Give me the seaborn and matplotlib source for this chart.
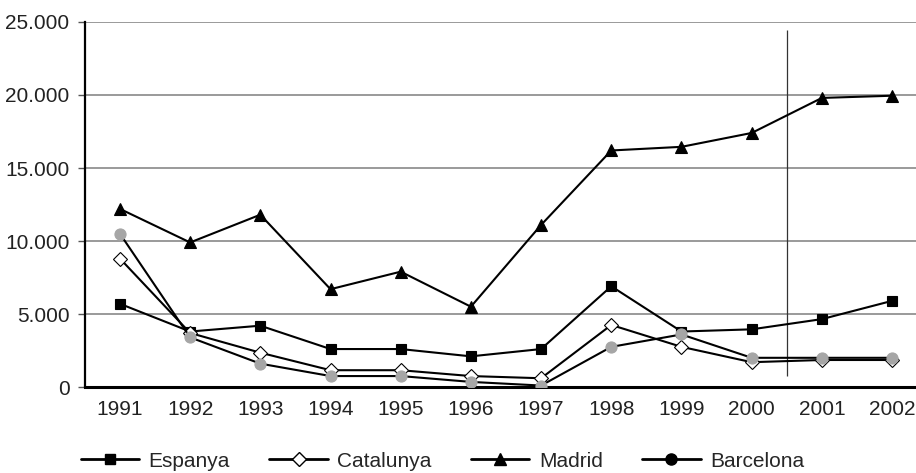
import numpy as np
import pandas as pd
import matplotlib
matplotlib.use("Agg")
import matplotlib.pyplot as plt
from matplotlib.lines import Line2D
from matplotlib.ticker import FuncFormatter
import seaborn as sns

# data
years = [1991, 1992, 1993, 1994, 1995, 1996, 1997, 1998, 1999, 2000, 2001, 2002]
espanya = [5700, 3800, 4200, 2600, 2600, 2100, 2600, 6900, 3800, 3950, 4650, 5900]
catalunya = [8800, 3700, 2350, 1150, 1150, 750, 600, 4250, 2750, 1700, 1850, 1850]
madrid = [12200, 9900, 11800, 6700, 7900, 5500, 11100, 16200, 16450, 17400, 19800, 19950]
barcelona = [10500, 3400, 1600, 750, 750, 350, 100, 2750, 3600, 2000, 2000, 2000]

series_names = ["Espanya", "Catalunya", "Madrid", "Barcelona"]
series_values = [espanya, catalunya, madrid, barcelona]

sns.set_style("white")
plt.rcParams["font.family"] = ["Liberation Sans", "DejaVu Sans"]

fig = plt.figure(figsize=(9.16, 4.73), dpi=100)
ax = fig.add_axes([0.0926, 0.1818, 0.9196, 0.7717])

# marker styles per series: (marker, size, face, edge)
styles = {
    "Espanya": ("s", 7.5, "black", "black"),
    "Catalunya": ("D", 7, "white", "black"),
    "Madrid": ("^", 9, "black", "black"),
    "Barcelona": ("o", 8, "#a6a6a6", "#a6a6a6"),
}

for name, vals in zip(series_names, series_values):
    m, ms, fc, ec = styles[name]
    sns.lineplot(x=years, y=vals, ax=ax, color="black", linewidth=1.5,
                 marker=m, markersize=ms, markerfacecolor=fc,
                 markeredgecolor=ec, markeredgewidth=0.8, zorder=3)

# thin vertical separator between 2000 and 2001
ax.vlines(2000.5, 750, 24450, color="#333333", linewidth=0.9, zorder=2)

ax.set_xlim(1990.5, 2002.5)
ax.set_ylim(0, 25000)
ax.set_yticks(range(0, 25001, 5000))
ax.yaxis.set_major_formatter(FuncFormatter(lambda v, p: f"{int(v):,}".replace(",", ".")))
ax.grid(axis="y", color="#7f7f7f", linewidth=1.1)
ax.set_axisbelow(True)

# tick marks at category boundaries, labels at category centers
ax.set_xticks(np.arange(1991.5, 2002.5, 1.0))
ax.set_xticklabels([])
ax.set_xticks(years, minor=True)
ax.set_xticklabels([str(y) for y in years], minor=True)
ax.tick_params(axis="x", which="major", length=5, width=1, color="#555555", direction="out")
ax.tick_params(axis="x", which="minor", length=0, pad=9, labelsize=15, labelcolor="#222222")
ax.tick_params(axis="y", length=5, width=1, color="#555555", pad=6, labelsize=15,
               labelcolor="#222222", left=True)

for s in ["top", "right"]:
    ax.spines[s].set_visible(False)
ax.spines["left"].set_color("black")
ax.spines["left"].set_linewidth(1.6)
ax.spines["bottom"].set_color("black")
ax.spines["bottom"].set_linewidth(2.2)
ax.set_xlabel("")
ax.set_ylabel("")

handles = []
for name in series_names:
    m, ms, fc, ec = styles[name]
    if name == "Barcelona":
        fc = ec = "black"
    handles.append(Line2D([0], [0], color="black", linewidth=2, marker=m,
                          markersize=ms, markerfacecolor=fc, markeredgecolor="black"))
fig.legend(handles, series_names, loc="center", bbox_to_anchor=(0.483, 0.025),
           ncol=4, frameon=False, fontsize=15, handlelength=2.8,
           handletextpad=0.45, columnspacing=1.9)

fig.savefig("out.png", dpi=100)
